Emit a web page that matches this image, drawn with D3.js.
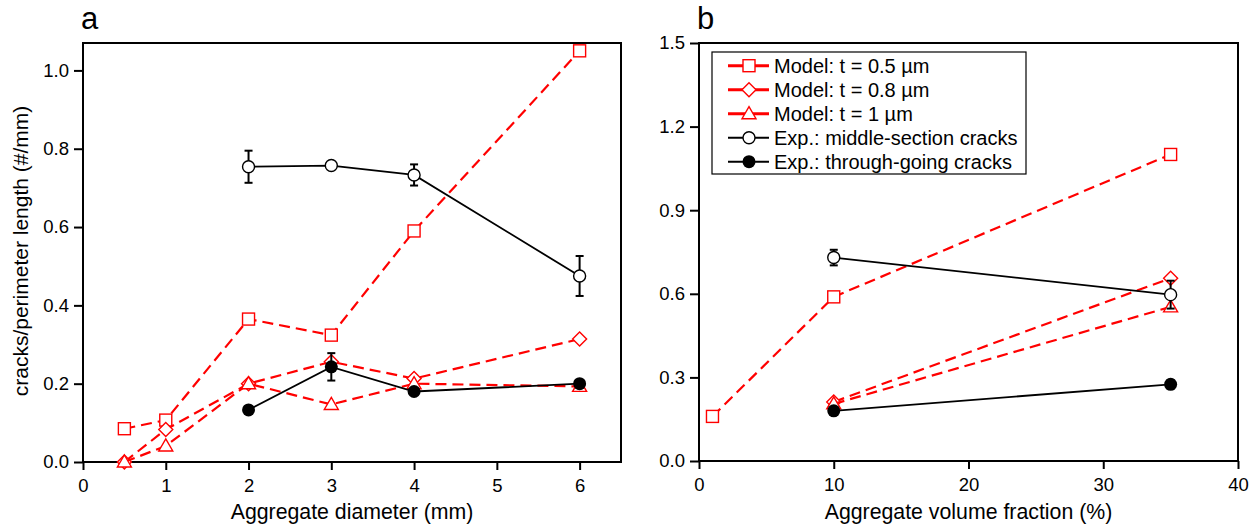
<!DOCTYPE html>
<html>
<head>
<meta charset="utf-8">
<script src="https://cdn.jsdelivr.net/npm/d3@7"></script>
<style>
  body { margin: 0; background: #fff; }
  svg text { font-family: "Liberation Sans", Arial, Helvetica, sans-serif; fill: #000; }
</style>
</head>
<body>
<svg id="chart" width="1257" height="530"></svg>
<script>
// ---- panel a data (aggregate diameter, mm) ----
var aDiam = [0.5, 1, 2, 3, 4, 6];
var aT05 = [0.085, 0.107, 0.365, 0.324, 0.59, 1.05];
var aT08 = [0, 0.083, 0.2, 0.256, 0.213, 0.314];
var aT1 = [0, 0.041, 0.2, 0.147, 0.2, 0.193];
var aExpDiam = [2, 3, 4, 6];
var aMid = [0.754, 0.757, 0.733, 0.475];
var aMidErr = [0.041, 0, 0.027, 0.051];
var aThr = [0.133, 0.243, 0.18, 0.2];
var aThrErr = [0, 0.035, 0, 0];
var aXTicks = [0, 1, 2, 3, 4, 5, 6];
var aYTicks = [0, 0.2, 0.4, 0.6, 0.8, 1.0];

// ---- panel b data (aggregate volume fraction, %) ----
var bFracT05 = [1, 10, 35];
var bT05 = [0.16, 0.589, 1.1];
var bFrac = [10, 35];
var bT08 = [0.212, 0.656];
var bT1 = [0.205, 0.553];
var bMid = [0.73, 0.597];
var bMidErr = [0.028, 0.05];
var bThr = [0.18, 0.275];
var bThrErr = [0, 0.015];
var bXTicks = [0, 10, 20, 30, 40];
var bYTicks = [0, 0.3, 0.6, 0.9, 1.2, 1.5];

var legendLabels = ["Model: t = 0.5 \u00b5m", "Model: t = 0.8 \u00b5m", "Model: t = 1 \u00b5m",
                    "Exp.: middle-section cracks", "Exp.: through-going cracks"];

var RED = "#ff0000";
var svg = d3.select("#chart");

function zip(xs, ys, es) {
    return xs.map(function (x, i) { return { x: x, y: ys[i], e: es ? es[i] : 0 }; });
}

function marker(g, type, x, y) {
    if (type == "square") {
        g.append("rect").attr("x", x - 6).attr("y", y - 6).attr("width", 12).attr("height", 12)
            .attr("fill", "#fff").attr("stroke", RED).attr("stroke-width", 1.4);
    } else if (type == "diamond") {
        g.append("path").attr("d", "M" + x + "," + (y - 7) + "L" + (x + 7) + "," + y + "L" + x + "," + (y + 7) + "L" + (x - 7) + "," + y + "Z")
            .attr("fill", "#fff").attr("stroke", RED).attr("stroke-width", 1.4);
    } else if (type == "triangle") {
        g.append("path").attr("d", "M" + x + "," + (y - 7) + "L" + (x + 7) + "," + (y + 5) + "L" + (x - 7) + "," + (y + 5) + "Z")
            .attr("fill", "#fff").attr("stroke", RED).attr("stroke-width", 1.4);
    } else if (type == "open") {
        g.append("circle").attr("cx", x).attr("cy", y).attr("r", 6)
            .attr("fill", "#fff").attr("stroke", "#000").attr("stroke-width", 1.4);
    } else {
        g.append("circle").attr("cx", x).attr("cy", y).attr("r", 6.5).attr("fill", "#000");
    }
}

function series(g, x, y, pts, type) {
    var model = (type == "square" || type == "diamond" || type == "triangle");
    var line = d3.line().x(function (d) { return x(d.x); }).y(function (d) { return y(d.y); });
    g.append("path").datum(pts).attr("d", line)
        .attr("fill", "none")
        .attr("stroke", model ? RED : "#000")
        .attr("stroke-width", model ? 2.2 : 1.8)
        .attr("stroke-dasharray", model ? "11,6" : null);
    pts.forEach(function (d) {
        if (d.e > 0) {
            var cx = x(d.x), y0 = y(d.y - d.e), y1 = y(d.y + d.e);
            g.append("line").attr("x1", cx).attr("x2", cx).attr("y1", y0).attr("y2", y1)
                .attr("stroke", "#000").attr("stroke-width", 2);
            [y0, y1].forEach(function (yy) {
                g.append("line").attr("x1", cx - 4).attr("x2", cx + 4).attr("y1", yy).attr("y2", yy)
                    .attr("stroke", "#000").attr("stroke-width", 2);
            });
        }
    });
    pts.forEach(function (d) { marker(g, type, x(d.x), y(d.y)); });
}

function panel(opts) {
    var x = d3.scaleLinear().domain(opts.xDomain).range([opts.left, opts.right]);
    var y = d3.scaleLinear().domain(opts.yDomain).range([opts.bottom, opts.top]);
    var g = svg.append("g");

    g.append("g").attr("transform", "translate(0," + opts.bottom + ")")
        .call(d3.axisBottom(x).tickValues(opts.xTicks).tickSize(8).tickSizeOuter(0).tickPadding(9)
            .tickFormat(d3.format("d")))
        .call(function (a) {
            a.select(".domain").remove();
            a.selectAll("line").attr("stroke-width", 2);
            a.selectAll("text").attr("font-size", 18.5).attr("font-family", null);
        });
    g.append("g").attr("transform", "translate(" + opts.left + ",0)")
        .call(d3.axisLeft(y).tickValues(opts.yTicks).tickSize(9).tickSizeOuter(0).tickPadding(5)
            .tickFormat(d3.format(".1f")))
        .call(function (a) {
            a.select(".domain").remove();
            a.selectAll("line").attr("stroke-width", 2);
            a.selectAll("text").attr("font-size", 18.5).attr("font-family", null);
        });

    g.append("rect").attr("x", opts.left).attr("y", opts.top)
        .attr("width", opts.right - opts.left).attr("height", opts.bottom - opts.top)
        .attr("fill", "none").attr("stroke", "#000").attr("stroke-width", 2);

    var plot = g.append("g");
    opts.series.forEach(function (s) { series(plot, x, y, s.pts, s.type); });

    g.append("text").attr("x", (opts.left + opts.right) / 2).attr("y", 518.5)
        .attr("text-anchor", "middle").attr("font-size", 21.3).text(opts.xLabel);
    g.append("text").attr("x", opts.left - 2).attr("y", 29)
        .attr("font-size", 31).text(opts.tag);
    return g;
}

panel({
    left: 83, right: 621, top: 43, bottom: 462,
    xDomain: [0, 6.5], yDomain: [0, 1.07],
    xTicks: aXTicks, yTicks: aYTicks,
    xLabel: "Aggregate diameter (mm)", tag: "a",
    series: [
        { type: "square", pts: zip(aDiam, aT05) },
        { type: "diamond", pts: zip(aDiam, aT08) },
        { type: "triangle", pts: zip(aDiam, aT1) },
        { type: "open", pts: zip(aExpDiam, aMid, aMidErr) },
        { type: "filled", pts: zip(aExpDiam, aThr, aThrErr) }
    ]
});

svg.append("text").attr("transform", "translate(28,251) rotate(-90)")
    .attr("text-anchor", "middle").attr("font-size", 21)
    .text("cracks/perimeter length (#/mm)");

panel({
    left: 699, right: 1238, top: 43, bottom: 461,
    xDomain: [0, 40], yDomain: [0, 1.5],
    xTicks: bXTicks, yTicks: bYTicks,
    xLabel: "Aggregate volume fraction (%)", tag: "b",
    series: [
        { type: "square", pts: zip(bFracT05, bT05) },
        { type: "diamond", pts: zip(bFrac, bT08) },
        { type: "triangle", pts: zip(bFrac, bT1) },
        { type: "open", pts: zip(bFrac, bMid, bMidErr) },
        { type: "filled", pts: zip(bFrac, bThr, bThrErr) }
    ]
});

// legend
var types = ["square", "diamond", "triangle", "open", "filled"];
var leg = svg.append("g");
leg.append("rect").attr("x", 712).attr("y", 52).attr("width", 314).attr("height", 122)
    .attr("fill", "#fff").attr("stroke", "#000").attr("stroke-width", 1.2);
legendLabels.forEach(function (label, i) {
    var cy = 65.7 + i * 24;
    var model = i < 3;
    leg.append("line").attr("x1", 728).attr("x2", 769).attr("y1", cy).attr("y2", cy)
        .attr("stroke", model ? RED : "#000").attr("stroke-width", model ? 3 : 2);
    marker(leg, types[i], 749, cy);
    leg.append("text").attr("x", 774).attr("y", cy + 7).attr("font-size", 20).text(label);
});
</script>
</body>
</html>
